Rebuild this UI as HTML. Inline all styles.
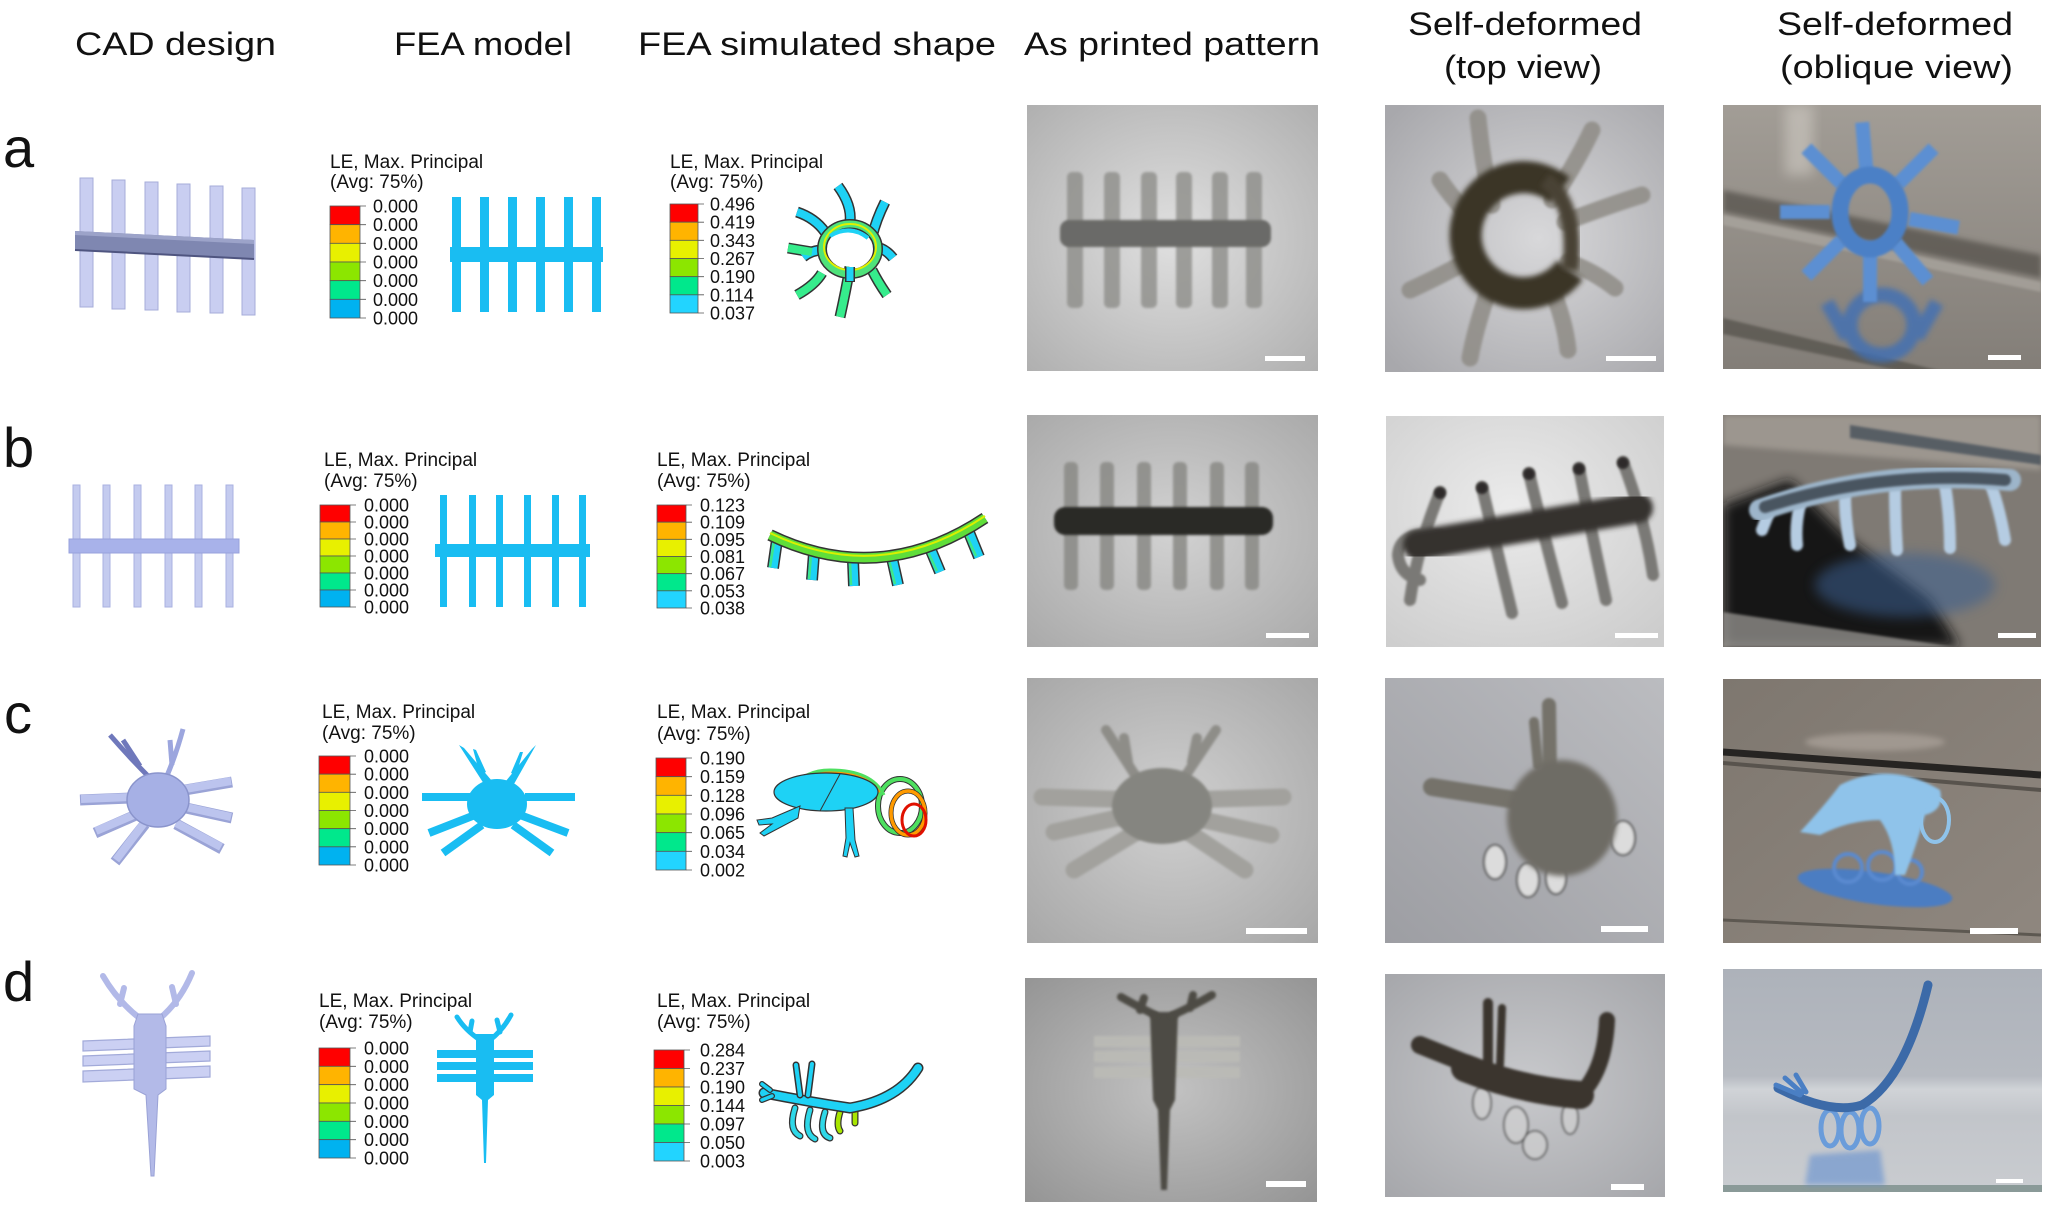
<!DOCTYPE html>
<html><head><meta charset="utf-8"><style>
html,body{margin:0;padding:0;background:#fff;}
svg{display:block;}
text{font-family:"Liberation Sans",Arial,sans-serif;fill:#111;}
</style></head><body>
<svg width="2050" height="1209" viewBox="0 0 2050 1209" xmlns="http://www.w3.org/2000/svg">
<defs>
<filter id="f1" x="-30%" y="-30%" width="160%" height="160%"><feGaussianBlur stdDeviation="1.3"/></filter>
<filter id="f2" x="-30%" y="-30%" width="160%" height="160%"><feGaussianBlur stdDeviation="2.6"/></filter>
<filter id="f4" x="-30%" y="-30%" width="160%" height="160%"><feGaussianBlur stdDeviation="6"/></filter>
<radialGradient id="ra1" cx="50%" cy="50%" r="70%"><stop offset="0" stop-color="#e0e0e0"/><stop offset="1" stop-color="#b0b0b0"/></radialGradient>
<radialGradient id="ra2" cx="55%" cy="50%" r="70%"><stop offset="0" stop-color="#d8d8da"/><stop offset="1" stop-color="#a8a8ac"/></radialGradient>
<linearGradient id="la3" x1="0" y1="0" x2="0" y2="1"><stop offset="0" stop-color="#a29d96"/><stop offset="1" stop-color="#837e78"/></linearGradient>
<radialGradient id="rb1" cx="50%" cy="50%" r="70%"><stop offset="0" stop-color="#d2d2d2"/><stop offset="1" stop-color="#aaaaaa"/></radialGradient>
<radialGradient id="rb2" cx="45%" cy="40%" r="75%"><stop offset="0" stop-color="#ebebeb"/><stop offset="1" stop-color="#cdcdcd"/></radialGradient>
<radialGradient id="rc1" cx="50%" cy="50%" r="70%"><stop offset="0" stop-color="#d0d0d0"/><stop offset="1" stop-color="#a8a8a8"/></radialGradient>
<linearGradient id="lc2" x1="0" y1="1" x2="1" y2="0"><stop offset="0" stop-color="#9d9ea3"/><stop offset="1" stop-color="#bbbcc0"/></linearGradient>
<linearGradient id="lc3" x1="0" y1="0" x2="1" y2="1"><stop offset="0" stop-color="#7e776f"/><stop offset="1" stop-color="#8f877f"/></linearGradient>
<radialGradient id="rd1" cx="50%" cy="50%" r="70%"><stop offset="0" stop-color="#c2c2c2"/><stop offset="1" stop-color="#959595"/></radialGradient>
<radialGradient id="rd2" cx="50%" cy="50%" r="70%"><stop offset="0" stop-color="#c8c9cc"/><stop offset="1" stop-color="#a6a7ab"/></radialGradient>
<linearGradient id="ld3" x1="0" y1="0" x2="0" y2="1"><stop offset="0" stop-color="#adb2ba"/><stop offset="0.48" stop-color="#b6bac1"/><stop offset="0.54" stop-color="#d0d3d7"/><stop offset="0.66" stop-color="#c2c5ca"/><stop offset="1" stop-color="#c9ccd0"/></linearGradient>
<clipPath id="ca1"><rect x="1027" y="105" width="291" height="266"/></clipPath>
<clipPath id="ca2"><rect x="1385" y="105" width="279" height="267"/></clipPath>
<clipPath id="ca3"><rect x="1723" y="105" width="318" height="264"/></clipPath>
<clipPath id="cb1"><rect x="1027" y="415" width="291" height="232"/></clipPath>
<clipPath id="cb2"><rect x="1386" y="416" width="278" height="231"/></clipPath>
<clipPath id="cb3"><rect x="1723" y="415" width="318" height="232"/></clipPath>
<clipPath id="cc1"><rect x="1027" y="678" width="291" height="265"/></clipPath>
<clipPath id="cc2"><rect x="1385" y="678" width="279" height="265"/></clipPath>
<clipPath id="cc3"><rect x="1723" y="679" width="318" height="264"/></clipPath>
<clipPath id="cd1"><rect x="1025" y="978" width="292" height="224"/></clipPath>
<clipPath id="cd2"><rect x="1385" y="974" width="280" height="223"/></clipPath>
<clipPath id="cd3"><rect x="1723" y="969" width="319" height="223"/></clipPath>
</defs>

<!-- Headers -->
<text x="75" y="55" font-size="32" textLength="201" lengthAdjust="spacingAndGlyphs">CAD design</text>
<text x="394" y="55" font-size="32" textLength="178" lengthAdjust="spacingAndGlyphs">FEA model</text>
<text x="638" y="55" font-size="32" textLength="358" lengthAdjust="spacingAndGlyphs">FEA simulated shape</text>
<text x="1024" y="55" font-size="32" textLength="296" lengthAdjust="spacingAndGlyphs">As printed pattern</text>
<text x="1408" y="35" font-size="32" textLength="234" lengthAdjust="spacingAndGlyphs">Self-deformed</text>
<text x="1444" y="78" font-size="32" textLength="158" lengthAdjust="spacingAndGlyphs">(top view)</text>
<text x="1777" y="35" font-size="32" textLength="236" lengthAdjust="spacingAndGlyphs">Self-deformed</text>
<text x="1780" y="78" font-size="32" textLength="233" lengthAdjust="spacingAndGlyphs">(oblique view)</text>

<!-- Row letters -->
<text x="3" y="167" font-size="56">a</text>
<text x="3" y="467" font-size="56">b</text>
<text x="4" y="733" font-size="56">c</text>
<text x="3" y="1001" font-size="56">d</text>

<!-- ===== Row a CAD ===== -->
<g fill="#c9cef1" stroke="#a6acd9" stroke-width="1">
<polygon points="80,178 93,178 93,307 80,307"/>
<polygon points="112,180 125,180 125,309 112,309"/>
<polygon points="145,182 158,182 158,310 145,310"/>
<polygon points="177,184 190,184 190,312 177,312"/>
<polygon points="210,186 223,186 223,313 210,313"/>
<polygon points="242,188 255,188 255,315 242,315"/>
</g>
<polygon points="75,231 254,240 254,259 75,250" fill="#7f87b1"/>
<polygon points="75,231 254,240 254,244 75,235" fill="#9ca3c9"/>
<line x1="75" y1="250" x2="254" y2="259" stroke="#4f5580" stroke-width="2"/>

<!-- Row a FEA model -->
<g fill="#19bdf2">
<rect x="452" y="197" width="9" height="115"/>
<rect x="480" y="197" width="9" height="115"/>
<rect x="508" y="197" width="9" height="115"/>
<rect x="536" y="197" width="9" height="115"/>
<rect x="564" y="197" width="9" height="115"/>
<rect x="592" y="197" width="9" height="115"/>
<rect x="450" y="247" width="153" height="15"/>
</g>

<!-- Legend a-model -->
<text x="330" y="168" font-size="19">LE, Max. Principal</text>
<text x="330" y="188" font-size="19">(Avg: 75%)</text>
<g stroke="#555" stroke-width="0.8">
<rect x="330" y="206" width="30" height="18.67" fill="#ff0000"/>
<rect x="330" y="224.67" width="30" height="18.67" fill="#ffb400"/>
<rect x="330" y="243.33" width="30" height="18.67" fill="#e8f000"/>
<rect x="330" y="262" width="30" height="18.67" fill="#8ce600"/>
<rect x="330" y="280.67" width="30" height="18.67" fill="#00e88c"/>
<rect x="330" y="299.33" width="30" height="18.67" fill="#00b2f0"/>
<path d="M360,206h6M360,224.67h6M360,243.33h6M360,262h6M360,280.67h6M360,299.33h6M360,318h6" fill="none"/>
</g>
<g font-size="18">
<text x="373" y="212.5">0.000</text><text x="373" y="231.2">0.000</text><text x="373" y="249.8">0.000</text><text x="373" y="268.5">0.000</text><text x="373" y="287.2">0.000</text><text x="373" y="305.8">0.000</text><text x="373" y="324.5">0.000</text>
</g>

<!-- Legend a-sim -->
<text x="670" y="168" font-size="19">LE, Max. Principal</text>
<text x="670" y="188" font-size="19">(Avg: 75%)</text>
<g stroke="#555" stroke-width="0.8">
<rect x="670" y="204" width="28" height="18.17" fill="#ff0000"/>
<rect x="670" y="222.17" width="28" height="18.17" fill="#ffb400"/>
<rect x="670" y="240.33" width="28" height="18.17" fill="#e8f000"/>
<rect x="670" y="258.5" width="28" height="18.17" fill="#8ce600"/>
<rect x="670" y="276.67" width="28" height="18.17" fill="#00e88c"/>
<rect x="670" y="294.83" width="28" height="18.17" fill="#22d4ff"/>
<path d="M698,204h6M698,222.17h6M698,240.33h6M698,258.5h6M698,276.67h6M698,294.83h6M698,313h6" fill="none"/>
</g>
<g font-size="18">
<text x="710" y="210.5">0.496</text><text x="710" y="228.7">0.419</text><text x="710" y="246.8">0.343</text><text x="710" y="265">0.267</text><text x="710" y="283.2">0.190</text><text x="710" y="301.3">0.114</text><text x="710" y="319.5">0.037</text>
</g>

<!-- Row a FEA sim shape -->
<g fill="none" stroke-linecap="butt">
<g stroke="#333" stroke-width="11">
<path d="M838,186 Q852,205 850,222"/><path d="M797,212 Q815,218 825,232"/><path d="M885,202 Q876,220 872,237"/><path d="M893,258 Q885,248 875,247"/><path d="M803,257 Q812,250 823,250"/>
<path d="M797,295 Q815,285 822,273"/><path d="M840,317 Q846,290 850,267"/><path d="M887,295 Q878,282 872,270"/><path d="M788,248 Q800,250 812,252"/>
</g>
<g stroke="#1ed2f5" stroke-width="8">
<path d="M838,186 Q852,205 850,222"/><path d="M797,212 Q815,218 825,232"/><path d="M885,202 Q876,220 872,237"/><path d="M893,258 Q885,248 875,247"/><path d="M803,257 Q812,250 823,250"/>
</g>
<g stroke="#36ec8c" stroke-width="8">
<path d="M797,295 Q815,285 822,273"/><path d="M840,317 Q846,290 850,267"/><path d="M887,295 Q878,282 872,270"/><path d="M788,248 Q800,250 812,252"/>
</g>
<ellipse cx="850" cy="249" rx="28" ry="25" stroke="#333" stroke-width="10"/>
<ellipse cx="850" cy="249" rx="28" ry="25" stroke="#4ee27a" stroke-width="7"/>
<ellipse cx="850" cy="247" rx="26" ry="23" stroke="#e0f000" stroke-width="2"/>
<path d="M830,236 Q850,224 868,238" stroke="#1ed2f5" stroke-width="4"/>
<path d="M850,267 L850,282" stroke="#333" stroke-width="10"/>
<path d="M850,267 L850,281" stroke="#1ed2f5" stroke-width="7"/>
</g>

<!-- ===== Row b CAD ===== -->
<g fill="#c4cbef" stroke="#aab2e0" stroke-width="1">
<rect x="73" y="485" width="7" height="122"/><rect x="103" y="485" width="7" height="122"/><rect x="134" y="485" width="7" height="122"/><rect x="165" y="485" width="7" height="122"/><rect x="195" y="485" width="7" height="122"/><rect x="226" y="485" width="7" height="122"/>
</g>
<rect x="69" y="539" width="170" height="14" fill="#a8b2ea" stroke="#97a1dc" stroke-width="1"/>

<!-- Row b FEA model -->
<g fill="#19bdf2">
<rect x="440" y="495" width="7" height="112"/><rect x="469" y="495" width="7" height="112"/><rect x="496" y="495" width="7" height="112"/><rect x="524" y="495" width="7" height="112"/><rect x="552" y="495" width="7" height="112"/><rect x="579" y="495" width="7" height="112"/>
<rect x="435" y="544" width="155" height="13"/>
</g>

<!-- Legend b-model -->
<text x="324" y="466" font-size="19">LE, Max. Principal</text>
<text x="324" y="487" font-size="19">(Avg: 75%)</text>
<g stroke="#555" stroke-width="0.8">
<rect x="320" y="505" width="30" height="17" fill="#ff0000"/>
<rect x="320" y="522" width="30" height="17" fill="#ffb400"/>
<rect x="320" y="539" width="30" height="17" fill="#e8f000"/>
<rect x="320" y="556" width="30" height="17" fill="#8ce600"/>
<rect x="320" y="573" width="30" height="17" fill="#00e88c"/>
<rect x="320" y="590" width="30" height="17" fill="#00b2f0"/>
<path d="M350,505h6M350,522h6M350,539h6M350,556h6M350,573h6M350,590h6M350,607h6" fill="none"/>
</g>
<g font-size="18">
<text x="364" y="511.5">0.000</text><text x="364" y="528.5">0.000</text><text x="364" y="545.5">0.000</text><text x="364" y="562.5">0.000</text><text x="364" y="579.5">0.000</text><text x="364" y="596.5">0.000</text><text x="364" y="613.5">0.000</text>
</g>

<!-- Legend b-sim -->
<text x="657" y="466" font-size="19">LE, Max. Principal</text>
<text x="657" y="487" font-size="19">(Avg: 75%)</text>
<g stroke="#555" stroke-width="0.8">
<rect x="657" y="505" width="29" height="17.17" fill="#ff0000"/>
<rect x="657" y="522.17" width="29" height="17.17" fill="#ffb400"/>
<rect x="657" y="539.33" width="29" height="17.17" fill="#e8f000"/>
<rect x="657" y="556.5" width="29" height="17.17" fill="#8ce600"/>
<rect x="657" y="573.67" width="29" height="17.17" fill="#00e88c"/>
<rect x="657" y="590.83" width="29" height="17.17" fill="#22d4ff"/>
<path d="M686,505h6M686,522.17h6M686,539.33h6M686,556.5h6M686,573.67h6M686,590.83h6M686,608h6" fill="none"/>
</g>
<g font-size="18">
<text x="700" y="511.5">0.123</text><text x="700" y="528.7">0.109</text><text x="700" y="545.8">0.095</text><text x="700" y="563">0.081</text><text x="700" y="580.2">0.067</text><text x="700" y="597.3">0.053</text><text x="700" y="614.5">0.038</text>
</g>

<!-- Row b FEA sim shape -->
<g fill="none">
<g stroke="#333" stroke-width="12">
<path d="M777,540 L773,568"/><path d="M814,553 L812,580"/><path d="M853,560 L854,586"/><path d="M892,558 L898,585"/><path d="M930,548 L940,572"/><path d="M968,530 L979,557"/>
</g>
<g stroke="#1ed2f5" stroke-width="9">
<path d="M777,540 L773,568"/><path d="M814,553 L812,580"/><path d="M853,560 L854,586"/><path d="M892,558 L898,585"/><path d="M930,548 L940,572"/><path d="M968,530 L979,557"/>
</g>
<g stroke="#3ee88a" stroke-width="2.5">
<path d="M774,542 L770,567"/><path d="M811,555 L809,579"/><path d="M850,562 L851,585"/><path d="M889,560 L895,584"/><path d="M927,550 L937,571"/><path d="M965,532 L976,556"/>
</g>
<path d="M770,535 Q880,588 985,518" stroke="#333" stroke-width="12"/>
<path d="M770,535 Q880,588 985,518" stroke="#5fde3a" stroke-width="9"/>
<path d="M770,533 Q880,586 985,516" stroke="#d8f000" stroke-width="2"/>
</g>

<!-- ===== Row c CAD ===== -->
<g stroke-linecap="butt" fill="none">
<g stroke="#9aa3d6" stroke-width="11">
<path d="M130,798 L80,800"/><path d="M136,815 L95,833"/><path d="M145,824 L115,862"/><path d="M185,790 L232,782"/><path d="M186,808 L232,818"/><path d="M176,824 L222,849"/>
</g>
<g stroke="#bcc4ee" stroke-width="8">
<path d="M130,797 L81,799"/><path d="M136,814 L96,831"/><path d="M144,823 L116,860"/><path d="M185,789 L231,781"/><path d="M186,807 L231,817"/><path d="M176,823 L221,847"/>
</g>
<g stroke="#6f78bb" stroke-width="5">
<path d="M150,778 Q130,758 110,735"/><path d="M140,766 L123,740"/>
</g>
<g stroke="#9ca6de" stroke-width="5">
<path d="M166,778 Q176,755 183,729"/><path d="M172,765 L170,740"/>
</g>
</g>
<ellipse cx="158" cy="800" rx="31" ry="27" fill="#a6b0e5" stroke="#8a94cc" stroke-width="1.5"/>

<!-- Row c FEA model -->
<g stroke="#19bdf2" stroke-width="8" fill="none">
<path d="M470,797 L422,797"/><path d="M525,797 L575,797"/><path d="M475,815 L429,833"/><path d="M520,815 L568,833"/><path d="M482,825 L443,853"/><path d="M513,825 L552,853"/>
</g>
<g fill="#19bdf2">
<polygon points="484,784 492,781 464,748 459,745"/>
<polygon points="480,775 486,772 476,750 473,749"/>
<polygon points="506,781 514,784 536,745 532,749"/>
<polygon points="511,773 516,775 523,752 520,752"/>
<ellipse cx="497" cy="804" rx="30" ry="25"/>
</g>

<!-- Legend c-model -->
<text x="322" y="718" font-size="19">LE, Max. Principal</text>
<text x="322" y="739" font-size="19">(Avg: 75%)</text>
<g stroke="#555" stroke-width="0.8">
<rect x="319" y="756" width="31" height="18.17" fill="#ff0000"/>
<rect x="319" y="774.17" width="31" height="18.17" fill="#ffb400"/>
<rect x="319" y="792.33" width="31" height="18.17" fill="#e8f000"/>
<rect x="319" y="810.5" width="31" height="18.17" fill="#8ce600"/>
<rect x="319" y="828.67" width="31" height="18.17" fill="#00e88c"/>
<rect x="319" y="846.83" width="31" height="18.17" fill="#00b2f0"/>
<path d="M350,756h6M350,774.17h6M350,792.33h6M350,810.5h6M350,828.67h6M350,846.83h6M350,865h6" fill="none"/>
</g>
<g font-size="18">
<text x="364" y="762.5">0.000</text><text x="364" y="780.7">0.000</text><text x="364" y="798.8">0.000</text><text x="364" y="817">0.000</text><text x="364" y="835.2">0.000</text><text x="364" y="853.3">0.000</text><text x="364" y="871.5">0.000</text>
</g>

<!-- Legend c-sim -->
<text x="657" y="718" font-size="19">LE, Max. Principal</text>
<text x="657" y="740" font-size="19">(Avg: 75%)</text>
<g stroke="#555" stroke-width="0.8">
<rect x="656" y="758" width="30" height="18.67" fill="#ff0000"/>
<rect x="656" y="776.67" width="30" height="18.67" fill="#ffb400"/>
<rect x="656" y="795.33" width="30" height="18.67" fill="#e8f000"/>
<rect x="656" y="814" width="30" height="18.67" fill="#8ce600"/>
<rect x="656" y="832.67" width="30" height="18.67" fill="#00e88c"/>
<rect x="656" y="851.33" width="30" height="18.67" fill="#22d4ff"/>
<path d="M686,758h6M686,776.67h6M686,795.33h6M686,814h6M686,832.67h6M686,851.33h6M686,870h6" fill="none"/>
</g>
<g font-size="18">
<text x="700" y="764.5">0.190</text><text x="700" y="783.2">0.159</text><text x="700" y="801.8">0.128</text><text x="700" y="820.5">0.096</text><text x="700" y="839.2">0.065</text><text x="700" y="857.8">0.034</text><text x="700" y="876.5">0.002</text>
</g>

<!-- Row c FEA sim shape -->
<g fill="none">
<ellipse cx="900" cy="806" rx="22" ry="27" stroke="#333" stroke-width="6"/>
<ellipse cx="900" cy="806" rx="22" ry="27" stroke="#4ee060" stroke-width="4"/>
<ellipse cx="908" cy="813" rx="17" ry="22" stroke="#333" stroke-width="5"/>
<ellipse cx="908" cy="813" rx="17" ry="22" stroke="#ff9a00" stroke-width="3.5"/>
<ellipse cx="914" cy="820" rx="12" ry="16" stroke="#e01000" stroke-width="3"/>
<path d="M790,790 Q800,772 830,772 Q870,772 880,792" stroke="#ff9a00" stroke-width="4"/>
<path d="M792,788 Q805,770 830,770 Q872,770 884,795" stroke="#4ee060" stroke-width="3"/>
</g>
<ellipse cx="826" cy="792" rx="52" ry="19" fill="#1ed2f5" stroke="#333" stroke-width="1.2"/>
<path d="M840,774 L820,811" stroke="#333" stroke-width="1" fill="none"/>
<path d="M800,806 L772,818 L757,820 L759,825 L772,824 L760,833 L764,836 L798,818 Z" fill="#1ed2f5" stroke="#333" stroke-width="1"/>
<path d="M845,808 L853,808 L855,840 L859,856 L855,857 L850,843 L847,857 L843,856 L846,838 Z" fill="#1ed2f5" stroke="#333" stroke-width="1"/>

<!-- ===== Row d CAD ===== -->
<g fill="#cbd0f3" stroke="#a2aad9" stroke-width="1.2">
<polygon points="83,1041 210,1036 210,1046 83,1051"/>
<polygon points="83,1056 210,1051 210,1061 83,1066"/>
<polygon points="83,1071 210,1066 210,1077 83,1082"/>
</g>
<g fill="none" stroke="#b2b9e8" stroke-width="6" stroke-linecap="round">
<path d="M142,1020 Q118,1002 103,976"/><path d="M120,1004 L124,988"/>
<path d="M158,1020 Q180,1002 192,973"/><path d="M176,1004 L172,987"/>
</g>
<path d="M138,1014 L162,1014 L166,1026 L166,1089 L158,1095 L154,1176 L151,1176 L146,1095 L134,1089 L134,1026 Z" fill="#b3bae8" stroke="#9aa2d6" stroke-width="1"/>

<!-- Row d FEA model -->
<g fill="#19bdf2">
<rect x="437" y="1050" width="96" height="8"/>
<rect x="437" y="1062" width="96" height="8"/>
<rect x="437" y="1074" width="96" height="8"/>
<path d="M476,1034 L494,1034 L494,1095 L488,1100 L486,1163 L484,1163 L482,1100 L476,1095 Z"/>
</g>
<g fill="none" stroke="#19bdf2" stroke-width="5" stroke-linecap="round">
<path d="M480,1040 Q465,1030 457,1017"/><path d="M470,1032 L472,1021"/>
<path d="M490,1040 Q503,1030 511,1015"/><path d="M500,1032 L497,1020"/>
</g>

<!-- Legend d-model -->
<text x="319" y="1007" font-size="19">LE, Max. Principal</text>
<text x="319" y="1028" font-size="19">(Avg: 75%)</text>
<g stroke="#555" stroke-width="0.8">
<rect x="319" y="1048" width="31" height="18.33" fill="#ff0000"/>
<rect x="319" y="1066.33" width="31" height="18.33" fill="#ffb400"/>
<rect x="319" y="1084.67" width="31" height="18.33" fill="#e8f000"/>
<rect x="319" y="1103" width="31" height="18.33" fill="#8ce600"/>
<rect x="319" y="1121.33" width="31" height="18.33" fill="#00e88c"/>
<rect x="319" y="1139.67" width="31" height="18.33" fill="#00b2f0"/>
<path d="M350,1048h6M350,1066.33h6M350,1084.67h6M350,1103h6M350,1121.33h6M350,1139.67h6M350,1158h6" fill="none"/>
</g>
<g font-size="18">
<text x="364" y="1054.5">0.000</text><text x="364" y="1072.8">0.000</text><text x="364" y="1091.2">0.000</text><text x="364" y="1109.5">0.000</text><text x="364" y="1127.8">0.000</text><text x="364" y="1146.2">0.000</text><text x="364" y="1164.5">0.000</text>
</g>

<!-- Legend d-sim -->
<text x="657" y="1007" font-size="19">LE, Max. Principal</text>
<text x="657" y="1028" font-size="19">(Avg: 75%)</text>
<g stroke="#555" stroke-width="0.8">
<rect x="654" y="1050" width="30" height="18.5" fill="#ff0000"/>
<rect x="654" y="1068.5" width="30" height="18.5" fill="#ffb400"/>
<rect x="654" y="1087" width="30" height="18.5" fill="#e8f000"/>
<rect x="654" y="1105.5" width="30" height="18.5" fill="#8ce600"/>
<rect x="654" y="1124" width="30" height="18.5" fill="#00e88c"/>
<rect x="654" y="1142.5" width="30" height="18.5" fill="#22d4ff"/>
<path d="M684,1050h6M684,1068.5h6M684,1087h6M684,1105.5h6M684,1124h6M684,1142.5h6M684,1161h6" fill="none"/>
</g>
<g font-size="18">
<text x="700" y="1056.5">0.284</text><text x="700" y="1075">0.237</text><text x="700" y="1093.5">0.190</text><text x="700" y="1112">0.144</text><text x="700" y="1130.5">0.097</text><text x="700" y="1149">0.050</text><text x="700" y="1167.5">0.003</text>
</g>

<!-- Row d FEA sim shape -->
<g fill="none" stroke-linecap="round">
<g stroke="#333" stroke-width="7">
<path d="M795,1108 Q788,1130 800,1136"/><path d="M810,1110 Q803,1133 815,1139"/><path d="M825,1112 Q818,1134 830,1138"/><path d="M840,1112 Q836,1125 840,1131"/><path d="M855,1110 L855,1123"/>
</g>
<g stroke="#2ed8e8" stroke-width="4.5">
<path d="M795,1108 Q788,1130 800,1136"/><path d="M810,1110 Q803,1133 815,1139"/><path d="M825,1112 Q818,1134 830,1138"/>
</g>
<g stroke="#a8e600" stroke-width="4.5">
<path d="M840,1112 Q836,1125 840,1131"/><path d="M855,1110 L855,1123"/>
</g>
<path d="M764,1093 Q810,1102 850,1108 Q898,1100 918,1068" stroke="#333" stroke-width="11"/>
<path d="M764,1093 Q810,1102 850,1108 Q898,1100 918,1068" stroke="#1ed2f5" stroke-width="8"/>
<path d="M800,1095 L796,1065 M808,1095 L812,1064" stroke="#333" stroke-width="7"/>
<path d="M800,1095 L796,1065 M808,1095 L812,1064" stroke="#1ed2f5" stroke-width="4"/>
<path d="M770,1090 L762,1084 M772,1096 L762,1100" stroke="#333" stroke-width="6"/>
<path d="M770,1090 L762,1084 M772,1096 L762,1100" stroke="#1ed2f5" stroke-width="3.5"/>
</g>

<!-- ===== PHOTOS ===== -->
<!-- a1 -->
<g clip-path="url(#ca1)">
<rect x="1027" y="105" width="291" height="266" fill="url(#ra1)"/>
<g fill="#8e8e8a" opacity=".8" filter="url(#f1)">
<rect x="1067" y="172" width="16" height="136" rx="5"/><rect x="1104" y="172" width="16" height="136" rx="5"/><rect x="1141" y="172" width="16" height="136" rx="5"/><rect x="1176" y="172" width="16" height="136" rx="5"/><rect x="1212" y="172" width="16" height="136" rx="5"/><rect x="1246" y="172" width="16" height="136" rx="5"/>
</g>
<rect x="1060" y="220" width="211" height="27" rx="9" fill="#6b6b68" filter="url(#f1)"/>
<rect x="1265" y="356" width="40" height="5" fill="#fff"/>
</g>
<!-- a2 -->
<g clip-path="url(#ca2)">
<rect x="1385" y="105" width="279" height="267" fill="url(#ra2)"/>
<g stroke="#8f8c86" stroke-width="17" stroke-linecap="round" fill="none" opacity=".85" filter="url(#f1)">
<path d="M1492,205 Q1482,160 1478,118"/><path d="M1552,200 Q1578,160 1592,130"/><path d="M1565,222 Q1610,205 1642,195"/><path d="M1568,262 Q1595,272 1615,288"/><path d="M1550,285 Q1565,320 1568,350"/><path d="M1488,292 Q1475,330 1470,358"/><path d="M1466,262 Q1432,280 1410,290"/><path d="M1468,215 Q1450,195 1440,180"/>
</g>
<path d="M1560,190 A58,58 0 1 0 1570,270" fill="none" stroke="#3a3426" stroke-width="32" filter="url(#f2)"/>
<path d="M1545,180 Q1578,205 1570,270" fill="none" stroke="#4a4334" stroke-width="16" filter="url(#f2)"/>
<rect x="1606" y="356" width="50" height="5" fill="#fff"/>
</g>
<!-- a3 -->
<g clip-path="url(#ca3)">
<rect x="1723" y="105" width="318" height="264" fill="url(#la3)"/>
<rect x="1785" y="105" width="28" height="70" fill="#cfcac3" opacity=".6" filter="url(#f4)"/>
<path d="M1723,190 L2041,255 L2041,278 L1723,212Z" fill="#55514b" opacity=".75" filter="url(#f2)"/>
<path d="M1723,215 L2041,282 L2041,292 L1723,225Z" fill="#b0aca5" opacity=".6" filter="url(#f1)"/>
<path d="M1723,318 L1945,372 L1905,372 L1723,334Z" fill="#4a4640" opacity=".6" filter="url(#f1)"/>
<g opacity=".8" filter="url(#f2)">
<ellipse cx="1882" cy="325" rx="32" ry="30" fill="none" stroke="#3f6fb5" stroke-width="15"/>
<rect x="1830" y="300" width="14" height="40" fill="#3f6fb5" transform="rotate(-30 1837 320)"/>
<rect x="1920" y="300" width="14" height="40" fill="#3f6fb5" transform="rotate(30 1927 320)"/>
</g>
<g fill="#5b8fd2" filter="url(#f1)">
<rect x="1863" y="122" width="14" height="50" transform="rotate(-5 1870 212)"/>
<rect x="1863" y="122" width="14" height="50" transform="rotate(45 1870 212)"/>
<rect x="1863" y="122" width="14" height="50" transform="rotate(100 1870 212)"/>
<rect x="1863" y="122" width="14" height="50" transform="rotate(140 1870 212)"/>
<rect x="1863" y="122" width="14" height="50" transform="rotate(180 1870 212)"/>
<rect x="1863" y="122" width="14" height="50" transform="rotate(225 1870 212)"/>
<rect x="1863" y="122" width="14" height="50" transform="rotate(270 1870 212)"/>
<rect x="1863" y="122" width="14" height="50" transform="rotate(315 1870 212)"/>
</g>
<ellipse cx="1870" cy="212" rx="30" ry="37" fill="none" stroke="#4b80c6" stroke-width="17" filter="url(#f1)"/>
<rect x="1988" y="355" width="33" height="5" fill="#fff"/>
</g>

<!-- b1 -->
<g clip-path="url(#cb1)">
<rect x="1027" y="415" width="291" height="232" fill="url(#rb1)"/>
<g fill="#8a8a86" opacity=".85" filter="url(#f1)">
<rect x="1064" y="462" width="14" height="128" rx="5"/><rect x="1100" y="462" width="14" height="128" rx="5"/><rect x="1137" y="462" width="14" height="128" rx="5"/><rect x="1173" y="462" width="14" height="128" rx="5"/><rect x="1210" y="462" width="14" height="128" rx="5"/><rect x="1245" y="462" width="14" height="128" rx="5"/>
</g>
<rect x="1054" y="507" width="219" height="28" rx="11" fill="#2b2a26" filter="url(#f1)"/>
<rect x="1266" y="633" width="43" height="5" fill="#fff"/>
</g>
<!-- b2 -->
<g clip-path="url(#cb2)">
<rect x="1386" y="416" width="278" height="231" fill="url(#rb2)"/>
<g stroke="#7a7976" stroke-width="12" stroke-linecap="round" fill="none" filter="url(#f1)">
<path d="M1440,492 Q1418,545 1410,600"/><path d="M1482,487 Q1497,550 1512,613"/><path d="M1529,473 Q1545,540 1562,603"/><path d="M1579,468 Q1592,535 1606,600"/><path d="M1623,462 Q1645,520 1653,575"/>
<path d="M1440,535 Q1400,530 1398,555 Q1400,575 1420,580"/>
</g>
<g fill="#2e2c29" filter="url(#f1)">
<circle cx="1440" cy="493" r="6"/><circle cx="1482" cy="488" r="6"/><circle cx="1529" cy="474" r="6"/><circle cx="1579" cy="469" r="6"/><circle cx="1623" cy="463" r="6"/>
</g>
<path d="M1418,545 L1638,508" stroke="#35322d" stroke-width="30" stroke-linecap="round" filter="url(#f2)"/>
<rect x="1615" y="633" width="43" height="5" fill="#fff"/>
</g>
<!-- b3 -->
<g clip-path="url(#cb3)">
<rect x="1723" y="415" width="318" height="232" fill="#7f7a74"/>
<path d="M1723,415 L2041,415 L2041,470 L1723,445Z" fill="#9c968f" filter="url(#f2)"/>
<path d="M1850,425 L2041,455 L2041,465 L1850,438Z" fill="#3a4652" opacity=".7" filter="url(#f1)"/>
<path d="M1723,505 L1790,480 L1850,540 L1930,600 L1960,647 L1723,647Z" fill="#141414" filter="url(#f4)"/>
<path d="M1723,612 L1955,647 L1723,647Z" fill="#a09e9a" opacity=".7" filter="url(#f1)"/>
<ellipse cx="1905" cy="585" rx="90" ry="32" fill="#3b5f90" opacity=".55" filter="url(#f4)"/>
<g stroke="#b5cce2" stroke-width="12" stroke-linecap="round" fill="none" filter="url(#f1)">
<path d="M1768,515 L1762,530"/><path d="M1800,505 Q1795,525 1797,545"/><path d="M1845,495 Q1845,520 1850,545"/><path d="M1895,488 Q1895,520 1897,550"/><path d="M1945,485 Q1950,515 1950,548"/><path d="M1990,482 Q2000,510 2005,540"/>
</g>
<path d="M1760,510 Q1880,468 2010,480" stroke="#9db5ca" stroke-width="22" fill="none" stroke-linecap="round" filter="url(#f1)"/>
<path d="M1765,507 Q1880,470 2005,480" stroke="#4a5560" stroke-width="12" fill="none" stroke-linecap="round" filter="url(#f1)"/>
<rect x="1998" y="633" width="38" height="5" fill="#fff"/>
</g>

<!-- c1 -->
<g clip-path="url(#cc1)">
<rect x="1027" y="678" width="291" height="265" fill="url(#rc1)"/>
<g stroke="#a2a19d" stroke-width="17" stroke-linecap="round" fill="none" filter="url(#f1)">
<path d="M1140,800 L1042,797"/><path d="M1185,800 L1283,797"/><path d="M1130,815 L1054,832"/><path d="M1195,818 L1271,835"/><path d="M1140,830 L1074,870"/><path d="M1185,830 L1245,870"/>
</g>
<g stroke="#8e8d88" stroke-width="10" stroke-linecap="round" fill="none" filter="url(#f1)">
<path d="M1135,775 L1106,730"/><path d="M1128,762 L1124,738"/><path d="M1186,775 L1216,730"/><path d="M1192,762 L1197,738"/>
</g>
<ellipse cx="1162" cy="806" rx="50" ry="38" fill="#858580" filter="url(#f1)"/>
<rect x="1246" y="928" width="61" height="6" fill="#fff"/>
</g>
<!-- c2 -->
<g clip-path="url(#cc2)">
<rect x="1385" y="678" width="279" height="265" fill="url(#lc2)"/>
<g fill="#dcdcdc" stroke="#555" stroke-width="2" filter="url(#f1)">
<ellipse cx="1495" cy="862" rx="11" ry="17"/><ellipse cx="1528" cy="880" rx="11" ry="17"/><ellipse cx="1556" cy="878" rx="10" ry="16"/><ellipse cx="1623" cy="838" rx="12" ry="17"/>
</g>
<g stroke="#74726a" stroke-linecap="round" fill="none" filter="url(#f1)">
<path d="M1515,800 L1432,787" stroke-width="18"/>
<path d="M1550,775 L1549,705" stroke-width="14"/><path d="M1538,765 L1534,722" stroke-width="10"/>
</g>
<ellipse cx="1562" cy="818" rx="55" ry="58" fill="#6e6c65" filter="url(#f2)"/>
<rect x="1601" y="926" width="47" height="6" fill="#fff"/>
</g>
<!-- c3 -->
<g clip-path="url(#cc3)">
<rect x="1723" y="679" width="318" height="264" fill="url(#lc3)"/>
<ellipse cx="1875" cy="742" rx="70" ry="9" fill="#a09890" filter="url(#f2)"/>
<path d="M1723,752 L2041,775" stroke="#262422" stroke-width="7"/>
<path d="M1723,763 L2041,790" stroke="#58534d" stroke-width="4"/>
<path d="M1723,920 L2041,935" stroke="#5d5851" stroke-width="3"/>
<ellipse cx="1875" cy="888" rx="78" ry="16" fill="#4b7dc2" transform="rotate(8 1875 888)" filter="url(#f1)"/>
<g fill="none" stroke="#5a8ad0" stroke-width="4" filter="url(#f1)"><circle cx="1848" cy="868" r="14"/><circle cx="1882" cy="866" r="14"/><circle cx="1910" cy="872" r="12"/></g>
<path d="M1840,785 Q1890,760 1940,790 Q1945,810 1925,815 Q1915,850 1905,875 L1895,875 Q1895,840 1880,820 Q1850,820 1820,835 L1800,832 Q1825,805 1840,785Z" fill="#8fc3ea" filter="url(#f1)"/>
<ellipse cx="1935" cy="820" rx="14" ry="22" fill="none" stroke="#8fc3ea" stroke-width="4"/>
<rect x="1970" y="928" width="48" height="6" fill="#fff"/>
</g>

<!-- d1 -->
<g clip-path="url(#cd1)">
<rect x="1025" y="978" width="292" height="224" fill="url(#rd1)"/>
<g fill="#bbbbb6" opacity=".9" filter="url(#f1)">
<rect x="1094" y="1036" width="146" height="11"/><rect x="1094" y="1051" width="146" height="11"/><rect x="1094" y="1067" width="146" height="11"/>
</g>
<g fill="#4d4c44" filter="url(#f1)">
<path d="M1150,1012 L1178,1012 L1175,1100 L1170,1110 L1167,1190 L1161,1190 L1158,1110 L1153,1100 Z"/>
</g>
<g stroke="#4d4c44" stroke-width="8" stroke-linecap="round" fill="none" filter="url(#f1)">
<path d="M1155,1015 Q1135,1005 1121,997"/><path d="M1140,1010 L1144,998"/><path d="M1173,1015 Q1195,1005 1212,995"/><path d="M1190,1008 L1193,995"/>
</g>
<rect x="1266" y="1181" width="40" height="6" fill="#fff"/>
</g>
<!-- d2 -->
<g clip-path="url(#cd2)">
<rect x="1385" y="974" width="280" height="223" fill="url(#rd2)"/>
<g fill="#d2d2d2" fill-opacity=".6" stroke="#444" stroke-width="1.5" filter="url(#f1)">
<ellipse cx="1482" cy="1103" rx="9" ry="16"/><ellipse cx="1516" cy="1125" rx="12" ry="18"/><ellipse cx="1535" cy="1145" rx="12" ry="14"/><ellipse cx="1570" cy="1118" rx="8" ry="16"/>
</g>
<g stroke="#3a362f" stroke-linecap="round" fill="none" filter="url(#f1)">
<path d="M1420,1045 L1470,1065" stroke-width="18"/>
<path d="M1465,1068 Q1520,1090 1580,1095" stroke-width="28"/>
<path d="M1580,1095 Q1605,1070 1607,1020" stroke-width="16"/>
<path d="M1488,1065 L1488,1003" stroke-width="10"/><path d="M1500,1065 L1502,1008" stroke-width="8"/>
</g>
<rect x="1611" y="1184" width="33" height="6" fill="#fff"/>
</g>
<!-- d3 -->
<g clip-path="url(#cd3)">
<rect x="1723" y="969" width="319" height="223" fill="url(#ld3)"/>
<rect x="1723" y="1185" width="319" height="7" fill="#8a9a98"/>
<g opacity=".55" filter="url(#f2)"><path d="M1810,1155 L1880,1150 L1885,1185 L1805,1185Z" fill="#5a8ad0"/></g>
<g fill="none" stroke="#5b95dd" stroke-width="5" opacity=".85"><ellipse cx="1830" cy="1128" rx="9" ry="18"/><ellipse cx="1850" cy="1130" rx="9" ry="18"/><ellipse cx="1870" cy="1126" rx="9" ry="18"/></g>
<path d="M1778,1088 Q1830,1115 1862,1105 Q1905,1080 1928,985" stroke="#3c6aa8" stroke-width="9" fill="none" stroke-linecap="round"/>
<g stroke="#4a7fc4" stroke-width="5" stroke-linecap="round" fill="none"><path d="M1800,1095 L1776,1085"/><path d="M1802,1093 L1785,1078"/><path d="M1806,1092 L1796,1075"/></g>
<rect x="1996" y="1179" width="27" height="4" fill="#fff"/>
</g>
</svg>
</body></html>
